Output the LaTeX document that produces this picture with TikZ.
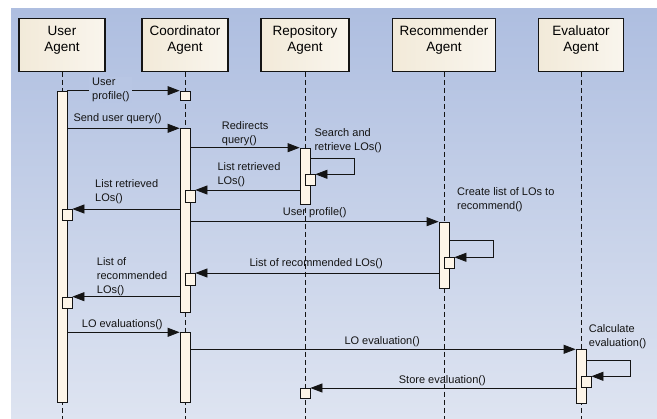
\documentclass[tikz,border=0pt]{standalone}
\usepackage{fontspec}
\setmainfont{Liberation Sans}
\usetikzlibrary{arrows.meta}
\definecolor{bgtop}{RGB}{174,190,224}
\definecolor{bgbot}{RGB}{222,228,241}
\definecolor{lblbg}{RGB}{184,198,228}
\definecolor{hdrL}{RGB}{242,234,217}
\definecolor{hdrR}{RGB}{249,245,237}
\definecolor{actfill}{RGB}{253,245,232}
\definecolor{ink}{RGB}{20,20,20}
\begin{document}
\begin{tikzpicture}[x=1pt,y=-1pt,
 hdr/.style={draw=ink, line width=1.2pt, left color=hdrL, right color=hdrR, minimum width=86pt, minimum height=52.7pt, anchor=north, align=center, font=\fontsize{13.5}{16}\selectfont, text depth=13pt, inner sep=0pt},
 act/.style={draw=ink, line width=0.8pt, fill=actfill, minimum width=10pt, anchor=north, inner sep=0pt},
 lifeline/.style={draw=ink, line width=0.8pt, dash pattern=on 5pt off 3pt},
 msg/.style={draw=ink, line width=0.8pt, -{Triangle[length=12pt,width=9pt]}},
 lbl/.style={anchor=base west, align=left, inner sep=0pt, font=\fontsize{11}{14.2}\selectfont, text=ink}
]
\useasboundingbox (0,0) rectangle (657,419);
\fill[white] (0,0) rectangle (657,419);
\shade[top color=bgtop, bottom color=bgbot] (11,9) rectangle (657,419);

% headers
\node[hdr] (user) at (62,18) {User\\Agent};
\node[hdr] (coord) at (185,18) {Coordinator\\Agent};
\node[hdr, minimum width=88pt] (repo) at (305,18) {Repository\\Agent};
\node[hdr, minimum width=103pt] (rec) at (444,18) {Recommender\\Agent};
\node[hdr, minimum width=85pt] (eval) at (581,18) {Evaluator\\Agent};

% lifelines
\coordinate (userend) at (62,419);
\coordinate (coordend) at (185,419);
\coordinate (repoend) at (305,419);
\coordinate (recend) at (444,419);
\coordinate (evalend) at (581,419);
\draw[lifeline] (user.south) -- (userend);
\draw[lifeline] (coord.south) -- (coordend);
\draw[lifeline] (repo.south) -- (repoend);
\draw[lifeline] (rec.south) -- (recend);
\draw[lifeline] (eval.south) -- (evalend);

% activations
\node[act, minimum height=311.6pt] (u1) at (62,90.7) {};
\node[act, minimum height=9.3pt] (c0) at (185,90.7) {};
\node[act, minimum height=183.4pt] (c1) at (185,128.3) {};
\node[act, minimum height=70pt] (c2) at (185,332.3) {};
\node[act, minimum height=56.3pt] (r1) at (305,147.7) {};
\node[act, minimum height=10.7pt] (r1s) at (310,174.3) {};
\node[act, minimum height=11.7pt] (c1s) at (190,190) {};
\node[act, minimum height=11pt] (u1s) at (67,209) {};
\node[act, minimum height=66.6pt] (m1) at (444,221.7) {};
\node[act, minimum height=10.4pt] (m1s) at (449,257.3) {};
\node[act, minimum height=12pt] (c1s2) at (190,273) {};
\node[act, minimum height=11.6pt] (u1s2) at (67,296.7) {};
\node[act, minimum height=53.7pt] (e1) at (581,349.3) {};
\node[act, minimum height=11pt] (e1s) at (586,376.3) {};
\node[act, minimum height=9.7pt] (r2) at (305,388) {};

% self-call corners
\coordinate (sA) at (354,158.3);
\coordinate (sB) at (493,240.7);
\coordinate (sC) at (630,360);

% messages
\draw[msg] (u1.north east) -- (c0.north west);
\draw[msg] (u1.east |- c1.north) -- (c1.north west);
\draw[msg] (c1.east |- r1.north) -- (r1.north west);
\draw[msg] (r1.east |- sA) -- (sA) -- (sA |- r1s.north) -- (r1s.north east);
\draw[msg] (r1.west |- c1s.north) -- (c1s.north east);
\draw[msg] (c1.west |- u1s.north) -- (u1s.north east);
\draw[msg] (c1.east |- m1.north) -- (m1.north west);
\draw[msg] (m1.east |- sB) -- (sB) -- (sB |- m1s.north) -- (m1s.north east);
\draw[msg] (m1.west |- c1s2.north) -- (c1s2.north east);
\draw[msg] (c1.west |- u1s2.north) -- (u1s2.north east);
\draw[msg] (u1.east |- c2.north) -- (c2.north west);
\draw[msg] (c2.east |- e1.north) -- (e1.north west);
\draw[msg] (e1.east |- sC) -- (sC) -- (sC |- e1s.north) -- (e1s.north east);
\draw[msg] (e1.west |- r2.north) -- (r2.north east);

% labels (anchor = baseline of last line)
\node[lbl, fill=lblbg, inner xsep=3pt, inner ysep=1pt] (l1) at (89,99.9) {User\\profile()};
\node[lbl] (l2) at (73.3,121.8) {Send user query()};
\node[lbl] (l3) at (221.7,143.7) {Redirects\\query()};
\node[lbl] (l4) at (314.3,151) {Search and\\retrieve LOs()};
\node[lbl] (l5) at (217.3,184.4) {List retrieved\\LOs()};
\node[lbl] (l6) at (95,202) {List retrieved\\LOs()};
\node[lbl] (l7) at (457,210) {Create list of LOs to\\recommend()};
\node[lbl] (l8) at (282.7,215.7) {User profile()};
\node[lbl] (l9) at (96.7,293.6) {List of\\recommended\\LOs()};
\node[lbl] (l10) at (249.3,266.5) {List of recommended LOs()};
\node[lbl] (l11) at (81.7,327.5) {LO evaluations()};
\node[lbl] (l12) at (344.3,344.8) {LO evaluation()};
\node[lbl] (l13) at (588.7,347) {Calculate\\evaluation()};
\node[lbl] (l14) at (398.7,383.2) {Store evaluation()};
\end{tikzpicture}
\end{document}
